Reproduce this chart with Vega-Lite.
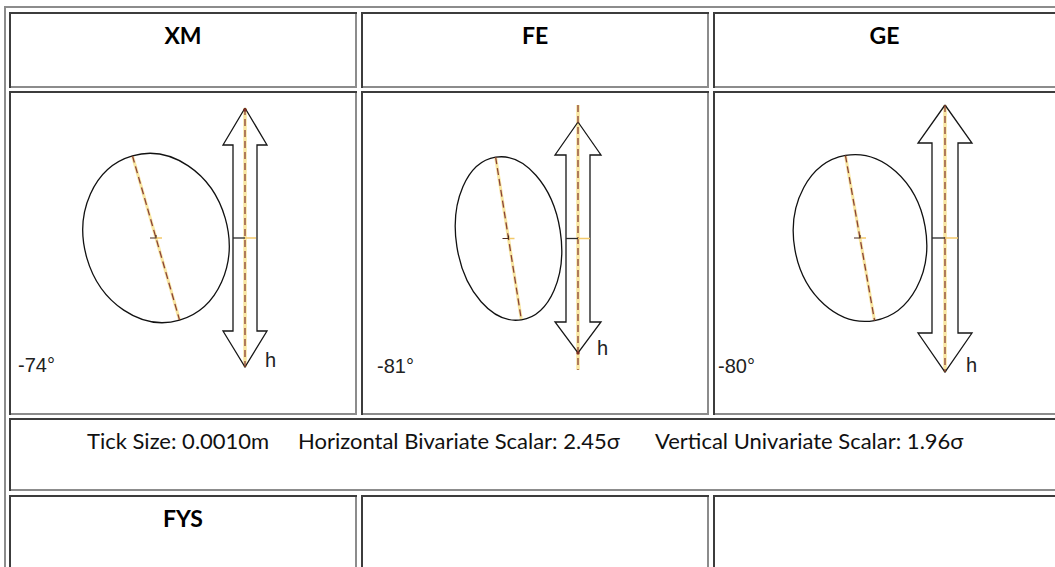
{
  "$schema": "https://vega.github.io/schema/vega-lite/v6.json",
  "width": 1055,
  "height": 567,
  "padding": 0,
  "autosize": {"type": "none"},
  "background": "white",
  "config": {"view": {"stroke": null}},
  "datasets": {
    "borders": [
      {"x": 5, "y": 7, "x2": 1055, "y2": 7, "tone": "light"},
      {"x": 5, "y": 7, "x2": 5, "y2": 567, "tone": "light"},
      {"x": 10, "y": 13, "x2": 356, "y2": 13, "tone": "dark"},
      {"x": 10, "y": 13, "x2": 10, "y2": 87, "tone": "dark"},
      {"x": 10, "y": 87, "x2": 356, "y2": 87, "tone": "light"},
      {"x": 356, "y": 13, "x2": 356, "y2": 87, "tone": "light"},
      {"x": 362, "y": 13, "x2": 708, "y2": 13, "tone": "dark"},
      {"x": 362, "y": 13, "x2": 362, "y2": 87, "tone": "dark"},
      {"x": 362, "y": 87, "x2": 708, "y2": 87, "tone": "light"},
      {"x": 708, "y": 13, "x2": 708, "y2": 87, "tone": "light"},
      {"x": 714, "y": 13, "x2": 1055, "y2": 13, "tone": "dark"},
      {"x": 714, "y": 13, "x2": 714, "y2": 87, "tone": "dark"},
      {"x": 714, "y": 87, "x2": 1055, "y2": 87, "tone": "light"},
      {"x": 10, "y": 92, "x2": 356, "y2": 92, "tone": "dark"},
      {"x": 10, "y": 92, "x2": 10, "y2": 414, "tone": "dark"},
      {"x": 10, "y": 414, "x2": 356, "y2": 414, "tone": "light"},
      {"x": 356, "y": 92, "x2": 356, "y2": 414, "tone": "light"},
      {"x": 362, "y": 92, "x2": 708, "y2": 92, "tone": "dark"},
      {"x": 362, "y": 92, "x2": 362, "y2": 414, "tone": "dark"},
      {"x": 362, "y": 414, "x2": 708, "y2": 414, "tone": "light"},
      {"x": 708, "y": 92, "x2": 708, "y2": 414, "tone": "light"},
      {"x": 714, "y": 92, "x2": 1055, "y2": 92, "tone": "dark"},
      {"x": 714, "y": 92, "x2": 714, "y2": 414, "tone": "dark"},
      {"x": 714, "y": 414, "x2": 1055, "y2": 414, "tone": "light"},
      {"x": 10, "y": 419, "x2": 1055, "y2": 419, "tone": "dark"},
      {"x": 10, "y": 419, "x2": 10, "y2": 490, "tone": "dark"},
      {"x": 10, "y": 490, "x2": 1055, "y2": 490, "tone": "light"},
      {"x": 10, "y": 496, "x2": 356, "y2": 496, "tone": "dark"},
      {"x": 10, "y": 496, "x2": 10, "y2": 567, "tone": "dark"},
      {"x": 356, "y": 496, "x2": 356, "y2": 567, "tone": "light"},
      {"x": 362, "y": 496, "x2": 708, "y2": 496, "tone": "dark"},
      {"x": 362, "y": 496, "x2": 362, "y2": 567, "tone": "dark"},
      {"x": 708, "y": 496, "x2": 708, "y2": 567, "tone": "light"},
      {"x": 714, "y": 496, "x2": 1055, "y2": 496, "tone": "dark"},
      {"x": 714, "y": 496, "x2": 714, "y2": 567, "tone": "dark"}
    ],
    "ellipses": [
      {"station": "XM", "x": 156, "y": 238, "semi_major": 85.5, "semi_minor": 72, "orientation": -74},
      {"station": "FE", "x": 508.5, "y": 238.5, "semi_major": 82.3, "semi_minor": 52.3, "orientation": -81},
      {"station": "GE", "x": 860, "y": 238, "semi_major": 83.8, "semi_minor": 66.1, "orientation": -80}
    ],
    "arrows": [
      {"station": "XM", "i": 0, "x": 245, "y": 108},
      {"station": "XM", "i": 1, "x": 267, "y": 145},
      {"station": "XM", "i": 2, "x": 257, "y": 145},
      {"station": "XM", "i": 3, "x": 257, "y": 331},
      {"station": "XM", "i": 4, "x": 267, "y": 331},
      {"station": "XM", "i": 5, "x": 245, "y": 367},
      {"station": "XM", "i": 6, "x": 223, "y": 331},
      {"station": "XM", "i": 7, "x": 233, "y": 331},
      {"station": "XM", "i": 8, "x": 233, "y": 145},
      {"station": "XM", "i": 9, "x": 223, "y": 145},
      {"station": "XM", "i": 10, "x": 245, "y": 108},
      {"station": "FE", "i": 0, "x": 578, "y": 122},
      {"station": "FE", "i": 1, "x": 601, "y": 155},
      {"station": "FE", "i": 2, "x": 590, "y": 155},
      {"station": "FE", "i": 3, "x": 590, "y": 322},
      {"station": "FE", "i": 4, "x": 601, "y": 322},
      {"station": "FE", "i": 5, "x": 578, "y": 353},
      {"station": "FE", "i": 6, "x": 555, "y": 322},
      {"station": "FE", "i": 7, "x": 566, "y": 322},
      {"station": "FE", "i": 8, "x": 566, "y": 155},
      {"station": "FE", "i": 9, "x": 555, "y": 155},
      {"station": "FE", "i": 10, "x": 578, "y": 122},
      {"station": "GE", "i": 0, "x": 945, "y": 105},
      {"station": "GE", "i": 1, "x": 972, "y": 143},
      {"station": "GE", "i": 2, "x": 958, "y": 143},
      {"station": "GE", "i": 3, "x": 958, "y": 333},
      {"station": "GE", "i": 4, "x": 972, "y": 333},
      {"station": "GE", "i": 5, "x": 945, "y": 372},
      {"station": "GE", "i": 6, "x": 918, "y": 333},
      {"station": "GE", "i": 7, "x": 932, "y": 333},
      {"station": "GE", "i": 8, "x": 932, "y": 143},
      {"station": "GE", "i": 9, "x": 918, "y": 143},
      {"station": "GE", "i": 10, "x": 945, "y": 105}
    ],
    "vlines": [
      {"station": "XM", "x": 245, "y": 108, "y2": 367},
      {"station": "FE", "x": 578, "y": 105, "y2": 370},
      {"station": "GE", "x": 945, "y": 105, "y2": 372}
    ],
    "ticks": [
      {"station": "XM", "part": "dark", "x": 233, "x2": 245, "y": 238},
      {"station": "XM", "part": "light", "x": 245, "x2": 256, "y": 238},
      {"station": "FE", "part": "dark", "x": 566, "x2": 578, "y": 238.5},
      {"station": "FE", "part": "light", "x": 578, "x2": 590, "y": 238.5},
      {"station": "GE", "part": "dark", "x": 932, "x2": 945, "y": 238},
      {"station": "GE", "part": "light", "x": 945, "x2": 958, "y": 238}
    ],
    "tipdots": [
      {"station": "FE", "x": 578, "y": 353},
      {"station": "XM", "x": 245, "y": 110}
    ],
    "headers": [
      {"label": "XM", "x": 183, "y": 44},
      {"label": "FE", "x": 535, "y": 44},
      {"label": "GE", "x": 884.5, "y": 44},
      {"label": "FYS", "x": 183, "y": 527}
    ],
    "footer": [
      {"label": "Tick Size: 0.0010m", "x": 87, "y": 449},
      {"label": "Horizontal Bivariate Scalar: 2.45σ", "x": 298, "y": 449},
      {"label": "Vertical Univariate Scalar: 1.96σ", "x": 655, "y": 449}
    ],
    "angles": [
      {"label": "-74°", "x": 18, "y": 372},
      {"label": "-81°", "x": 377, "y": 373},
      {"label": "-80°", "x": 718, "y": 373}
    ],
    "hlabels": [
      {"label": "h", "x": 265, "y": 367},
      {"label": "h", "x": 597, "y": 355},
      {"label": "h", "x": 966, "y": 372}
    ]
  },
  "encoding": {
    "x": {"field": "x", "type": "quantitative", "scale": {"domain": [0, 1055], "nice": false, "zero": false}, "axis": null},
    "y": {"field": "y", "type": "quantitative", "scale": {"domain": [0, 567], "nice": false, "zero": false, "reverse": true}, "axis": null}
  },
  "layer": [
    {
      "data": {"name": "borders"},
      "transform": [{"filter": "datum.tone == 'light'"}],
      "mark": {"type": "rule", "color": "#8c8c8c", "strokeWidth": 2, "strokeCap": "square"},
      "encoding": {"x2": {"field": "x2"}, "y2": {"field": "y2"}}
    },
    {
      "data": {"name": "borders"},
      "transform": [{"filter": "datum.tone == 'dark'"}],
      "mark": {"type": "rule", "color": "#3c3c3c", "strokeWidth": 2, "strokeCap": "square"},
      "encoding": {"x2": {"field": "x2"}, "y2": {"field": "y2"}}
    },
    {
      "data": {"name": "vlines"},
      "mark": {"type": "rule", "color": "#f7e08a", "strokeWidth": 3.5, "opacity": 0.8},
      "encoding": {"y2": {"field": "y2"}}
    },
    {
      "data": {"name": "ellipses"},
      "mark": {"type": "point", "shape": "M-1,0L1,0", "filled": false, "stroke": "#f7e08a", "strokeWidth": 3, "opacity": 0.8},
      "encoding": {
        "size": {"field": "semi_major", "type": "quantitative", "scale": {"type": "pow", "exponent": 2, "domain": [0, 100], "range": [0, 40000]}, "legend": null},
        "angle": {"field": "orientation", "type": "quantitative", "scale": {"domain": [-90, 0], "range": [90, 0]}}
      }
    },
    {
      "data": {"name": "arrows"},
      "mark": {"type": "line", "color": "#161616", "strokeWidth": 1.3, "strokeJoin": "miter", "interpolate": "linear"},
      "encoding": {
        "detail": {"field": "station", "type": "nominal"},
        "order": {"field": "i", "type": "quantitative"}
      }
    },
    {
      "data": {"name": "vlines"},
      "mark": {"type": "rule", "color": "#8a4236", "strokeWidth": 1.3, "strokeDash": [7, 4]},
      "encoding": {"y2": {"field": "y2"}}
    },
    {
      "data": {"name": "ticks"},
      "transform": [{"filter": "datum.part == 'light'"}],
      "mark": {"type": "rule", "color": "#f3c96a", "strokeWidth": 1.5},
      "encoding": {"x2": {"field": "x2"}}
    },
    {
      "data": {"name": "ticks"},
      "transform": [{"filter": "datum.part == 'dark'"}],
      "mark": {"type": "rule", "color": "#2a2a2a", "strokeWidth": 1.3},
      "encoding": {"x2": {"field": "x2"}}
    },
    {
      "data": {"name": "ellipses"},
      "mark": {"type": "point", "filled": false, "stroke": "#111111", "strokeWidth": 1.3, "opacity": 1},
      "encoding": {
        "shape": {"field": "station", "type": "nominal", "scale": {"domain": ["XM", "FE", "GE"], "range": [
          "M1,0C1,0.465,0.552,0.842,0,0.842C-0.552,0.842,-1,0.465,-1,0C-1,-0.465,-0.552,-0.842,0,-0.842C0.552,-0.842,1,-0.465,1,0Z",
          "M1,0C1,0.351,0.552,0.635,0,0.635C-0.552,0.635,-1,0.351,-1,0C-1,-0.351,-0.552,-0.635,0,-0.635C0.552,-0.635,1,-0.351,1,0Z",
          "M1,0C1,0.436,0.552,0.789,0,0.789C-0.552,0.789,-1,0.436,-1,0C-1,-0.436,-0.552,-0.789,0,-0.789C0.552,-0.789,1,-0.436,1,0Z"
        ]}, "legend": null},
        "size": {"field": "semi_major", "type": "quantitative", "scale": {"type": "pow", "exponent": 2, "domain": [0, 100], "range": [0, 40000]}, "legend": null},
        "angle": {"field": "orientation", "type": "quantitative", "scale": {"domain": [-90, 0], "range": [90, 0]}}
      }
    },
    {
      "data": {"name": "ellipses"},
      "mark": {"type": "point", "shape": "M-1,0L1,0", "filled": false, "stroke": "#8a4236", "strokeWidth": 1.3, "strokeDash": [7, 4], "opacity": 1},
      "encoding": {
        "size": {"field": "semi_major", "type": "quantitative", "scale": {"type": "pow", "exponent": 2, "domain": [0, 100], "range": [0, 40000]}, "legend": null},
        "angle": {"field": "orientation", "type": "quantitative", "scale": {"domain": [-90, 0], "range": [90, 0]}}
      }
    },
    {
      "data": {"name": "ellipses"},
      "mark": {"type": "point", "shape": "M0.1,0L1,0", "filled": false, "stroke": "#f3c96a", "strokeWidth": 1.5, "size": 144, "opacity": 1}
    },
    {
      "data": {"name": "ellipses"},
      "mark": {"type": "point", "shape": "M-1,0L0.1,0M0,0L0,-0.5", "filled": false, "stroke": "#4a2a20", "strokeWidth": 1.2, "size": 144, "opacity": 1}
    },
    {
      "data": {"name": "tipdots"},
      "mark": {"type": "point", "shape": "circle", "filled": true, "color": "#7a2a20", "size": 12, "opacity": 0.9}
    },
    {
      "data": {"name": "headers"},
      "mark": {"type": "text", "font": "Lato", "fontWeight": "bold", "fontSize": 23, "color": "#000000", "align": "center", "baseline": "alphabetic"},
      "encoding": {"text": {"field": "label"}}
    },
    {
      "data": {"name": "footer"},
      "mark": {"type": "text", "font": "Lato", "fontSize": 22, "color": "#111111", "align": "left", "baseline": "alphabetic"},
      "encoding": {"text": {"field": "label"}}
    },
    {
      "data": {"name": "angles"},
      "mark": {"type": "text", "font": "Liberation Sans", "fontSize": 20, "color": "#222222", "align": "left", "baseline": "alphabetic"},
      "encoding": {"text": {"field": "label"}}
    },
    {
      "data": {"name": "hlabels"},
      "mark": {"type": "text", "font": "Liberation Sans", "fontSize": 20, "color": "#222222", "align": "left", "baseline": "alphabetic"},
      "encoding": {"text": {"field": "label"}}
    }
  ]
}
